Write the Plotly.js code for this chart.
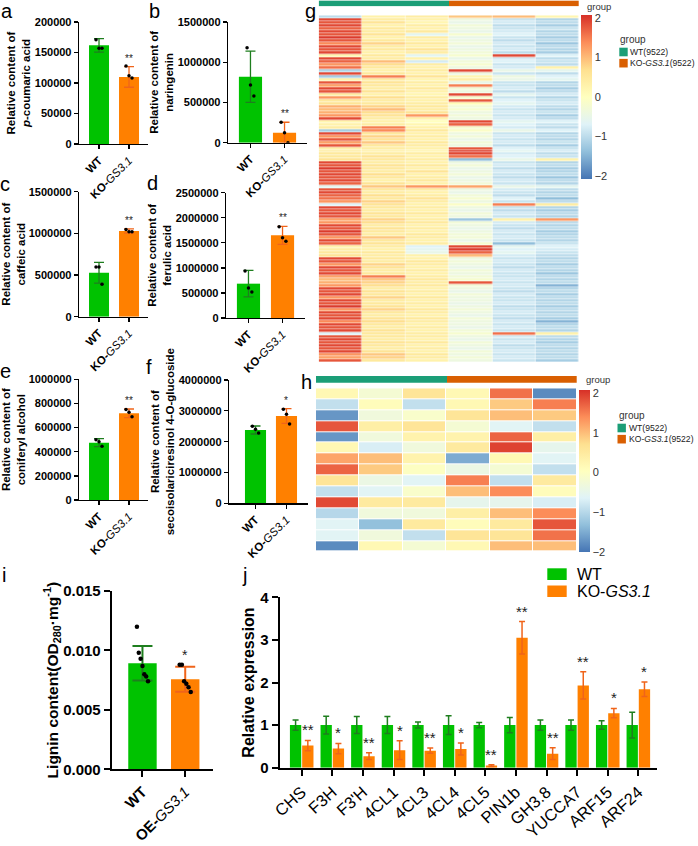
<!DOCTYPE html>
<html><head><meta charset="utf-8">
<script src="https://cdn.plot.ly/plotly-3.0.1.min.js"></script>
<style>html,body{margin:0;padding:0;background:#fff}#chart{width:698px;height:846px}</style>
</head><body><div id="chart"></div>
<script>
// ---------------- DATA ----------------
const groupLabelsKO = ['<b>WT</b>', '<b>KO-</b><i>GS3.1</i>'];
const groupLabelsOE = ['<b>WT</b>', '<b>OE-</b><i>GS3.1</i>'];

const aMeans = [161700, 110000], aErr = [11000, 17000];
const aPtsWT = [171000, 157000, 157000], aPtsKO = [128000, 112000, 108000];
const bMeans = [820000, 124000], bErr = [318000, 130000];
const bPtsWT = [1180000, 717000, 580000], bPtsKO = [253000, 124000, 0];
const cMeans = [528000, 1028000], cErr = [125000, 25000];
const cPtsWT = [596000, 596000, 390000], cPtsKO = [1045000, 1020000, 1020000];
const dMeans = [685000, 1650000], dErr = [265000, 180000];
const dPtsWT = [940000, 600000, 520000], dPtsKO = [1820000, 1600000, 1530000];
const eMeans = [475000, 718000], eErr = [33000, 36000];
const ePtsWT = [500000, 483000, 445000], ePtsKO = [750000, 727000, 690000];
const fMeans = [2378000, 2832000], fErr = [130000, 240000];
const fPtsWT = [2500000, 2400000, 2280000], fPtsKO = [3050000, 2890000, 2570000];
const sigAF = ['**', '**', '**', '**', '**', '*'];

const iMeans = [0.00892, 0.00757], iErr = [0.00145, 0.00105];
const iPtsWT = [0.0120, 0.0098, 0.0093, 0.0087, 0.0080, 0.0078, 0.0074];
const iPtsOE = [0.0088, 0.0088, 0.0074, 0.0072, 0.0069, 0.0065];
const iSig = '*';

const genes = ['CHS', 'F3H', "F3'H", '4CL1', '4CL3', '4CL4', '4CL5', 'PIN1b', 'GH3.8', 'YUCCA7', 'ARF15', 'ARF24'];
const jWT = [1, 1, 1, 1, 1, 1, 1, 1, 1, 1, 1, 1];
const jWTerr = [0.12, 0.21, 0.2, 0.2, 0.07, 0.22, 0.06, 0.18, 0.12, 0.12, 0.1, 0.3];
const jKO = [0.52, 0.45, 0.27, 0.41, 0.40, 0.44, 0.05, 3.05, 0.33, 1.93, 1.28, 1.84];
const jKOerr = [0.12, 0.12, 0.08, 0.22, 0.06, 0.14, 0.02, 0.38, 0.14, 0.32, 0.11, 0.17];
const jSig = ['**', '*', '**', '*', '**', '*', '**', '**', '**', '**', '*', '*'];

const heatGroups = [0, 0, 0, 1, 1, 1];
const groupNames = ['WT(9522)', 'KO-<i>GS3.1</i>(9522)'];

const gData = [
[-1.0,0.3,0.4,0.9,1.0,0.2],[1.9,0.4,0.3,-0.4,-0.9,-1.1],[1.8,0.6,0.2,-0.5,-0.8,-1.0],[1.9,0.3,0.4,-0.3,-1.0,-1.2],
[1.7,0.5,0.3,-0.4,-0.9,-0.9],[1.9,0.4,0.5,-0.5,-0.8,-1.1],[1.8,0.6,-0.6,-0.2,-0.7,-1.0],[2.0,0.3,0.4,-0.5,-0.9,-1.2],
[1.8,0.5,0.3,-0.4,-1.0,-1.0],[1.4,0.8,0.5,-0.3,-0.8,-1.3],[1.9,0.4,0.3,-0.5,-0.9,-1.0],[1.8,0.5,0.6,-0.4,-0.8,-1.1],
[1.9,0.3,0.4,-0.3,-1.0,-1.2],[0.2,0.5,-0.6,-0.2,1.9,-0.7],[1.9,0.4,0.3,-0.5,-0.8,-1.0],[1.7,1.0,-0.8,-0.3,-0.7,-0.9],
[1.3,0.7,0.4,-0.2,-0.9,-1.0],[1.6,0.5,0.3,-0.4,-0.8,0.3],[-1.1,0.3,0.4,1.9,-0.5,-0.6],[1.9,0.5,0.3,-0.4,-0.9,-1.0],
[-1.2,1.5,0.6,0.2,-0.4,-0.7],[0.3,0.4,0.2,0.4,-0.5,-0.6],[1.8,0.6,0.4,-0.5,-0.9,-1.1],[1.2,0.5,0.3,1.5,-0.9,-1.0],
[1.9,0.4,0.5,-0.3,-0.8,-1.2],[1.8,0.6,0.3,-0.4,-1.0,-1.0],[0.4,0.3,0.2,1.9,-0.6,-0.8],[1.3,0.7,0.4,-0.2,-0.9,-1.1],
[0.5,0.4,0.3,1.8,-0.7,-0.9],[0.6,0.5,0.4,0.1,-0.6,-0.8],[1.1,0.8,0.5,-0.3,-0.8,-1.0],[1.0,1.0,0.4,-0.2,-0.9,-1.1],
[1.1,0.7,0.6,-0.4,-0.8,-0.9],[1.3,0.6,1.3,-0.3,-0.9,-1.2],[1.9,0.4,0.3,-0.4,-0.8,-1.0],[0.2,0.3,0.0,1.9,-0.6,-0.7],
[0.3,0.4,0.2,1.7,-0.7,-0.9],[0.4,1.5,0.3,-0.2,-0.8,-1.0],[-1.2,1.4,0.5,-0.1,-0.5,-0.7],[1.9,0.5,0.3,-0.4,-0.9,-1.1],
[1.3,0.8,0.4,-0.3,-0.8,-1.0],[1.8,0.6,0.3,-0.5,-0.9,-1.1],[1.2,0.9,0.5,-0.3,-0.8,-0.9],[1.8,0.5,0.4,-0.4,-1.0,-1.2],
[0.3,0.4,0.3,1.8,-0.7,-0.9],[0.4,0.3,0.2,2.0,-0.6,-0.8],[0.5,0.4,0.4,1.9,-0.8,-1.0],[0.5,0.6,0.3,1.6,-0.7,-0.9],
[0.6,0.5,0.4,-1.4,-0.5,0.3],[1.9,0.4,0.3,-0.4,-0.9,-1.1],[1.8,0.6,0.5,-0.3,-0.8,-1.0],[2.0,0.5,0.3,-0.5,-1.0,-1.2],
[1.8,0.4,0.6,-0.4,-0.8,-1.1],[1.9,0.7,0.3,-0.3,-0.9,-1.0],[1.8,0.5,0.4,-0.5,-1.0,-1.3],[1.9,0.3,0.5,-0.4,-0.8,-1.0],
[1.7,0.6,0.3,-0.3,-0.9,-1.1],[-0.6,0.9,1.3,1.2,-0.5,-0.6],[1.8,0.5,0.4,-0.4,-0.8,-1.0],[1.9,0.4,0.3,-0.5,-0.9,-1.1],
[1.7,0.7,0.4,-0.3,-1.0,-1.0],[1.6,0.5,0.6,-0.2,-0.7,-1.4],[1.3,0.8,0.4,-0.4,-0.9,-1.0],[-0.7,0.6,0.3,-0.1,1.5,0.4],
[1.9,0.5,0.4,-0.4,-0.9,-1.1],[1.8,0.4,0.3,-0.5,-1.0,-1.2],[1.9,0.6,0.5,-0.3,-0.8,-1.0],[1.8,0.5,0.3,-0.4,-0.9,-1.1],
[1.2,0.8,0.4,-1.3,0.3,1.3],[1.3,0.7,0.5,-0.3,-0.8,-1.0],[1.9,0.4,0.3,-0.4,-0.9,-1.1],[1.8,0.6,0.4,-0.5,-1.0,-1.0],
[2.0,0.5,0.3,-0.4,-0.8,-1.2],[1.8,0.4,0.5,-0.3,-0.9,-1.1],[1.3,0.9,0.4,-0.3,-0.8,-1.0],[1.9,0.5,0.3,-0.5,-0.9,-1.1],
[1.7,0.6,0.4,-0.2,-1.4,-0.9],[0.3,0.4,-0.7,1.9,-0.6,-0.7],[0.4,0.3,-0.6,2.0,-0.7,-0.8],[0.5,0.5,-0.5,1.7,-0.6,-0.9],
[0.6,0.4,0.3,1.0,-0.8,-1.0],[1.9,0.5,0.3,-0.4,-0.9,-1.1],[1.8,0.4,0.5,-0.3,-0.8,-1.0],[1.3,0.8,0.4,-0.4,-0.9,-1.2],
[1.9,0.6,0.3,-0.5,-1.0,-1.0],[1.8,0.4,0.4,-0.3,-0.8,-1.1],[1.9,0.5,0.3,-0.4,-0.9,-1.3],[1.2,1.5,0.4,-0.3,-0.9,-1.0],
[1.0,0.9,0.5,-0.2,-0.8,-1.1],[1.1,0.8,0.4,1.8,-0.9,-1.0],[1.3,0.7,0.5,-0.3,-0.8,-1.5],[1.9,0.4,0.3,-0.4,-0.9,-1.1],
[1.8,0.6,0.4,-0.5,-1.0,-1.0],[1.9,0.5,0.3,-0.3,-0.8,-1.2],[1.3,0.8,0.5,-0.4,-0.9,-1.0],[1.9,0.4,0.3,-0.4,-0.9,-1.1],
[1.8,0.5,0.4,-0.5,-0.8,-1.0],[2.0,0.6,0.3,-0.4,-1.0,-1.2],[1.3,0.8,0.5,-0.3,-0.9,-1.0],[1.9,0.5,0.4,-0.4,-0.8,-1.1],
[1.8,0.4,0.3,-0.5,-0.9,-1.0],[1.9,0.6,0.5,-0.3,-1.0,-1.2],[1.4,0.7,0.4,-0.4,-0.8,-1.5],[1.9,0.5,0.3,-0.4,-0.9,-1.1],
[1.8,0.4,0.4,-0.5,-0.8,-1.0],[1.9,0.6,0.3,-0.3,-0.9,-1.1],[-0.7,0.5,0.4,-0.2,1.6,0.3],[1.8,0.5,0.4,-0.4,-0.8,-1.0],
[1.9,0.4,0.3,-0.5,-0.9,-1.1],[1.8,0.6,0.5,-0.3,-0.8,-1.2],[1.9,0.5,0.3,-0.4,-1.0,-1.0],[1.8,0.4,0.4,-0.5,-0.9,-1.1],
[1.9,0.6,0.3,-0.3,-0.8,-1.0],[1.3,0.9,0.5,-0.4,-0.9,-1.1],[1.2,0.8,0.4,-0.3,-0.8,-1.0],[1.8,0.5,0.3,-0.4,-0.9,-1.2]
];

const hData = [
[0.2,-0.2,0.6,0.2,1.6,-1.8],
[-0.9,0.1,-0.9,0.2,0.9,1.5],
[-1.7,-0.3,-0.1,0.6,1.0,0.9],
[1.8,0.4,0.6,-0.2,-0.6,-0.9],
[-1.7,-0.3,0.3,0.3,1.7,0.4],
[0.2,-0.7,-0.3,0.5,1.95,-0.5],
[1.2,1.0,0.3,-1.5,0.2,-0.6],
[1.7,0.9,0.0,-0.4,-0.2,-0.9],
[0.6,-0.4,-0.6,1.5,-0.9,0.5],
[-0.9,-0.6,-0.1,1.0,1.4,0.1],
[1.9,0.5,0.5,-0.5,-0.5,-0.7],
[-1.0,-0.3,-0.3,0.4,1.0,1.4],
[-0.6,-1.3,0.5,0.1,0.5,1.8],
[-0.6,-0.3,-0.9,0.6,0.6,1.6],
[-1.8,0.2,-0.2,0.2,1.0,1.0]
];

// ---------------- STYLE / LAYOUT ----------------
const W = 698, H = 846;
const X = p => p / W, Y = p => 1 - p / H;
const FONT = 'Liberation Sans, Arial, Helvetica, sans-serif';
const GREEN = '#00C200', ORANGE = '#FF8000', GREEN_ERR = '#1E7E1E', ORANGE_ERR = '#F0641A';
const RDYLBU = [[0,'#4575B4'],[1/6,'#91BFDB'],[2/6,'#E0F3F8'],[3/6,'#FFFFBF'],[4/6,'#FEE090'],[5/6,'#FC8D59'],[1,'#D73027']];
const GROUPCOL = ['#1B9E77', '#D95F02'];

const traces = [];
const layout = {
  width: W, height: H, margin: {l: 0, r: 0, t: 0, b: 0}, autosize: false,
  showlegend: false, barmode: 'overlay', paper_bgcolor: '#fff', plot_bgcolor: 'rgba(0,0,0,0)',
  font: {family: FONT, color: '#000'}, annotations: [], shapes: []
};
const sfx = n => n === 1 ? '' : String(n);

function barPanel(n, box, xrange, bw, means, errs, ptsWT, ptsKO, labels, sig, yrange, dtick, ytitle, o) {
  const s = sfx(n);
  const cols = [GREEN, ORANGE], ecols = [GREEN_ERR, ORANGE_ERR], pts = [ptsWT, ptsKO];
  for (let k = 0; k < 2; k++) {
    traces.push({type: 'bar', x: [k], y: [means[k]], width: bw, xaxis: 'x' + s, yaxis: 'y' + s,
      marker: {color: cols[k], line: {width: 0}}, hoverinfo: 'skip',
      error_y: {type: 'data', array: [errs[k]], visible: true, color: ecols[k], thickness: o.et, width: o.ew}});
    const p = pts[k];
    traces.push({type: 'scatter', mode: 'markers', xaxis: 'x' + s, yaxis: 'y' + s, hoverinfo: 'skip',
      x: p.map((v, i) => k + (p.length > 1 ? (-o.jit + 2 * o.jit * i / (p.length - 1)) : 0)), y: p,
      marker: {color: '#000', size: o.ms}});
  }
  layout['xaxis' + s] = {domain: [X(box[0]), X(box[2])], range: xrange, anchor: 'y' + s, tickvals: [0, 1], ticktext: labels,
    tickangle: o.ta, showline: true, linecolor: '#000', linewidth: o.lw, ticks: 'outside', ticklen: o.tl, tickwidth: o.lw,
    tickcolor: '#000', showgrid: false, zeroline: false, fixedrange: true, tickfont: {size: o.xf, family: FONT, color: '#000'}};
  layout['yaxis' + s] = {domain: [Y(box[3]), Y(box[1])], range: yrange, anchor: 'x' + s, dtick: dtick, tick0: 0, tickformat: o.fmt,
    showline: true, linecolor: '#000', linewidth: o.lw, ticks: 'outside', ticklen: o.tl, tickwidth: o.lw, tickcolor: '#000',
    showgrid: false, zeroline: false, fixedrange: true, tickfont: {size: o.yf, family: FONT, color: '#000', weight: 'bold'},
    title: {text: ytitle, font: {size: o.tf, family: FONT, color: '#000', weight: 'bold'}, standoff: o.so}};
  layout.annotations.push({xref: 'x' + s, yref: 'y' + s, x: 1, y: means[1] + errs[1], text: sig, showarrow: false,
    yanchor: 'bottom', yshift: o.sy, font: {size: o.sf, color: '#222', family: FONT}});
}

const small = {et: 1.3, ew: 5, jit: 0.1, ms: 3.5, ta: -45, lw: 1.3, tl: 4, xf: 11.5, yf: 11, fmt: 'd', tf: 11.5, so: 1, sy: 1, sf: 10};
barPanel(1, [79, 22, 148, 144], [-0.667, 1.633], 0.667, aMeans, aErr, aPtsWT, aPtsKO, groupLabelsKO, sigAF[0], [0, 200000], 50000,
  'Relative content of<br><i>p</i>-coumaric acid', small);
barPanel(2, [228, 22, 307, 142.7], [-0.66, 1.66], 0.68, bMeans, bErr, bPtsWT, bPtsKO, groupLabelsKO, sigAF[1], [0, 1500000], 500000,
  'Relative content of<br>naringenin', small);
barPanel(3, [79, 191.7, 148, 316.7], [-0.667, 1.633], 0.667, cMeans, cErr, cPtsWT, cPtsKO, groupLabelsKO, sigAF[2], [0, 1500000], 500000,
  'Relative content of<br>caffeic acid', small);
barPanel(4, [226, 192.7, 305, 318], [-0.66, 1.66], 0.68, dMeans, dErr, dPtsWT, dPtsKO, groupLabelsKO, sigAF[3], [0, 2500000], 500000,
  'Relative content of<br>ferulic acid', small);
barPanel(5, [79, 379.3, 148, 500], [-0.667, 1.633], 0.667, eMeans, eErr, ePtsWT, ePtsKO, groupLabelsKO, sigAF[4], [0, 1000000], 200000,
  'Relative content of<br>coniferyl alcohol', small);
barPanel(6, [229, 380, 308, 503.3], [-0.855, 1.694], 0.68, fMeans, fErr, fPtsWT, fPtsKO, groupLabelsKO, sigAF[5], [0, 4000000], 1000000,
  'Relative content of<br>secoisolariciresinol 4-O-glucoside', small);

// panel i
barPanel(11, [111.7, 591, 213, 769.3], [-0.72, 1.65], 0.665, iMeans, iErr, iPtsWT, iPtsOE, groupLabelsOE, iSig, [0, 0.015], 0.005,
  'Lignin content(OD<sub>280</sub>·mg<sup>-1</sup>)',
  {et: 2, ew: 10, jit: 0.13, ms: 4.5, ta: -45, lw: 2, tl: 6, xf: 15, yf: 15, fmt: '.3f', tf: 15.5, so: 0, sy: 2, sf: 14});

// heatmaps
function heatPanel(nH, nG, box, gbox, data, cbar) {
  const sH = sfx(nH), sG = sfx(nG);
  traces.push({type: 'heatmap', z: data, x: data[0].map((_, i) => i), y: data.map((_, i) => i), xaxis: 'x' + sH, yaxis: 'y' + sH,
    colorscale: RDYLBU, zmin: cbar.zmin, zmax: cbar.zmax, xgap: cbar.gap, ygap: cbar.gap, hoverinfo: 'skip',
    colorbar: {x: X(cbar.x), xanchor: 'left', xpad: 0, y: Y(cbar.y0), yanchor: 'top', ypad: 0, len: cbar.len, lenmode: 'pixels',
      thickness: 11, thicknessmode: 'pixels', outlinewidth: 0, tickvals: [-2, -1, 0, 1, 2], ticks: '', ticklen: 2,
      tickfont: {size: 11, color: '#333', family: FONT}}});
  traces.push({type: 'heatmap', z: [heatGroups], x: heatGroups.map((_, i) => i), y: [0], xaxis: 'x' + sG, yaxis: 'y' + sG,
    colorscale: [[0, GROUPCOL[0]], [0.5, GROUPCOL[0]], [0.5, GROUPCOL[1]], [1, GROUPCOL[1]]], zmin: 0, zmax: 1,
    showscale: false, hoverinfo: 'skip'});
  layout['xaxis' + sH] = {domain: [X(box[0]), X(box[2])], anchor: 'y' + sH, visible: false, range: [-0.5, data[0].length - 0.5], fixedrange: true};
  layout['yaxis' + sH] = {domain: [Y(box[3]), Y(box[1])], anchor: 'x' + sH, visible: false, range: [data.length - 0.5, -0.5], fixedrange: true};
  layout['xaxis' + sG] = {domain: [X(gbox[0]), X(gbox[2])], anchor: 'y' + sG, visible: false, range: [-0.5, heatGroups.length - 0.5], fixedrange: true};
  layout['yaxis' + sG] = {domain: [Y(gbox[3]), Y(gbox[1])], anchor: 'x' + sG, visible: false, range: [-0.5, 0.5], fixedrange: true};
}
heatPanel(7, 8, [318.7, 15.3, 579, 362], [318.7, 0.4, 579, 6.3], gData, {zmin: -2.08, zmax: 2.08, gap: 0.5, x: 581, y0: 15, len: 164});
heatPanel(9, 10, [316, 388.3, 576.7, 551.7], [316, 376, 576.7, 382.7], hData, {zmin: -2.0, zmax: 2.08, gap: 1, x: 579, y0: 390, len: 162});

// panel j
const jOff = [-0.385, 0.015], jW = 0.37;
traces.push({type: 'bar', x: genes.map((_, i) => i), y: jWT, width: jW, offset: jOff[0], xaxis: 'x12', yaxis: 'y12',
  marker: {color: GREEN, line: {width: 0}}, hoverinfo: 'skip',
  error_y: {type: 'data', array: jWTerr, visible: true, color: GREEN_ERR, thickness: 1.5, width: 3}});
traces.push({type: 'bar', x: genes.map((_, i) => i), y: jKO, width: jW, offset: jOff[1], xaxis: 'x12', yaxis: 'y12',
  marker: {color: ORANGE, line: {width: 0}}, hoverinfo: 'skip',
  error_y: {type: 'data', array: jKOerr, visible: true, color: ORANGE_ERR, thickness: 1.5, width: 3}});
layout.xaxis12 = {domain: [X(280), X(656.7)], range: [-0.709, 11.6], anchor: 'y12', tickvals: genes.map((_, i) => i), ticktext: genes,
  tickangle: -42, showline: true, linecolor: '#000', linewidth: 2.5, ticks: 'outside', ticklen: 6, tickwidth: 2, tickcolor: '#000',
  showgrid: false, zeroline: false, fixedrange: true, tickfont: {size: 16.5, family: FONT, color: '#000'}};
layout.yaxis12 = {domain: [Y(767.7), Y(597.3)], range: [0, 4], dtick: 1, anchor: 'x12', showline: true, linecolor: '#000', linewidth: 2.5,
  ticks: 'outside', ticklen: 6, tickwidth: 2, tickcolor: '#000', showgrid: false, zeroline: false, fixedrange: true,
  tickfont: {size: 15, family: FONT, color: '#000', weight: 'bold'},
  title: {text: 'Relative expression', font: {size: 16, family: FONT, color: '#000', weight: 'bold'}, standoff: 2}};
jKO.forEach((v, i) => layout.annotations.push({xref: 'x12', yref: 'y12', x: i + jOff[1] + jW / 2, y: v + jKOerr[i], text: jSig[i],
  showarrow: false, yanchor: 'bottom', yshift: 0, font: {size: 15, color: '#222', family: FONT}}));

// legends (swatches + text)
function swatch(x0, y0, x1, y1, col) {
  layout.shapes.push({type: 'rect', xref: 'paper', yref: 'paper', x0: X(x0), x1: X(x1), y0: Y(y1), y1: Y(y0), fillcolor: col, line: {width: 0}});
}
function label(x, y, text, size, color, extra) {
  layout.annotations.push(Object.assign({xref: 'paper', yref: 'paper', x: X(x), y: Y(y), text: text, showarrow: false,
    xanchor: 'left', yanchor: 'middle', borderpad: 0, font: {size: size, family: FONT, color: color || '#000'}}, extra || {}));
}
swatch(547.3, 568.3, 566.7, 580, GREEN);
swatch(547.3, 585.5, 566.7, 597, ORANGE);
label(576, 574.5, 'WT', 16);
label(576, 591.5, 'KO-<i>GS3.1</i>', 16);

// heatmap group legends: one two-line text block per legend, swatches aligned to its lines
const LINE = 8.6 * 1.3;
function groupLegend(x, yTitle, yFirst) {
  label(x, yTitle, 'group', 10, '#333');
  swatch(x, yFirst - 4.3, x + 8.4, yFirst + 4.3, GROUPCOL[0]);
  swatch(x, yFirst - 4.3 + LINE, x + 8.4, yFirst + 4.3 + LINE, GROUPCOL[1]);
  label(x + 10, yFirst - LINE / 2 - 0.5, groupNames.join('<br>'), 8.6, '#222', {yanchor: 'top', align: 'left', y: Y(yFirst - LINE / 2 - 0.5)});
}
groupLegend(619.3, 39.5, 52);
groupLegend(617.5, 415, 428);

label(585.5, 6, 'group', 9.5, '#333');
label(584.5, 379.5, 'group', 9.5, '#333');

// panel letters
[['a', 7, 11.5], ['b', 154, 11.5], ['c', 5, 184], ['d', 152, 183], ['e', 5, 371], ['f', 149, 367],
 ['g', 310, 11.5], ['h', 306, 382], ['i', 3.5, 575], ['j', 244, 575]].forEach(t => {
  layout.annotations.push({xref: 'paper', yref: 'paper', x: X(t[1]), y: Y(t[2]), text: t[0], showarrow: false,
    xanchor: 'center', yanchor: 'middle', borderpad: 0, font: {size: 20, family: FONT, color: '#000'}});
});

Plotly.newPlot('chart', traces, layout, {staticPlot: true, displayModeBar: false});
</script>
</body></html>
